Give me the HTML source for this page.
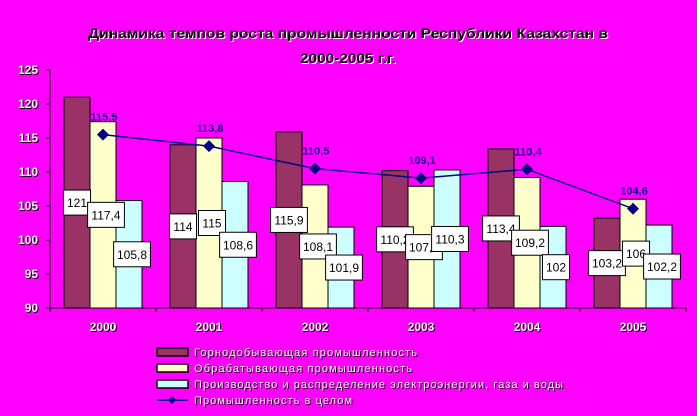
<!DOCTYPE html>
<html><head><meta charset="utf-8"><style>
html,body{margin:0;padding:0;background:#FF00FF;}
svg{display:block;font-family:"Liberation Sans",Arial,sans-serif;}
</style></head><body>
<svg id="chart" width="697" height="416" viewBox="0 0 697 416" xmlns="http://www.w3.org/2000/svg">
<rect width="697" height="416" fill="#FF00FF"/>
<g font-weight="bold" font-size="14" text-anchor="middle">
<text x="349" y="39" fill="#fff" textLength="520" lengthAdjust="spacingAndGlyphs">Динамика темпов роста промышленности Республики Казахстан в</text>
<text x="348" y="38" fill="#000" textLength="520" lengthAdjust="spacingAndGlyphs">Динамика темпов роста промышленности Республики Казахстан в</text>
<text x="349" y="64" fill="#fff" textLength="96" lengthAdjust="spacingAndGlyphs">2000-2005 г.г.</text>
<text x="348" y="63" fill="#000" textLength="96" lengthAdjust="spacingAndGlyphs">2000-2005 г.г.</text>
</g>
<g id="plot"></g>
<g id="legend"></g>
</svg>
<script>
const categories=["2000","2001","2002","2003","2004","2005"];
const mining=[121,114,115.9,110.2,113.4,103.2];
const manufacturing=[117.4,115,108.1,107.9,109.2,106];
const energy=[105.8,108.6,101.9,110.3,102,102.2];
const total=[115.5,113.8,110.5,109.1,110.4,104.6];
const yTicks=[90,95,100,105,110,115,120,125];
const seriesNames=["Горнодобывающая промышленность","Обрабатывающая промышленность","Производство и распределение электроэнергии, газа и воды","Промышленность в целом"];

const NS="http://www.w3.org/2000/svg";
const X0=50,CW=106,Y0=308,YMIN=90,YMAX=125,PH=238;
function y(v){return Y0-(v-YMIN)/(YMAX-YMIN)*PH;}
function xc(i){return X0+CW*i+CW/2;}
function fmt(v){return String(v).replace('.',',');}
function mk(tag,attrs,parent){const e=document.createElementNS(NS,tag);for(const k in attrs)e.setAttribute(k,attrs[k]);parent.appendChild(e);return e;}
const plot=document.getElementById('plot');
function shadowText(txt,x,yy,anchor,size,bold,parent,name,len){
  const g=mk('g',{},parent);
  
  
  const ex=len?{textLength:len,lengthAdjust:'spacing'}:{};
  const a=mk('text',Object.assign({x:x+1,y:yy+1,fill:'#000','text-anchor':anchor,'font-size':size,'font-weight':bold?'bold':'normal'},ex),g);a.textContent=txt;
  const b=mk('text',Object.assign({x:x,y:yy,fill:'#fff','text-anchor':anchor,'font-size':size,'font-weight':bold?'bold':'normal'},ex),g);b.textContent=txt;
}
yTicks.forEach(t=>{
  const l=mk('line',{x1:X0-4,x2:X0,y1:y(t),y2:y(t),stroke:'#000'},plot);
  
  
  shadowText(String(t),X0-12,y(t)+4,'end',12,true,plot,'y-tick-label');
});
const series=[mining,manufacturing,energy];
const colors=["#993366","#FFFFCC","#CCFFFF"];
const bw=26;
const labelQueue=[];
series.forEach((s,si)=>{
  s.forEach((v,i)=>{
    const bx=X0+CW*i+14+si*bw;
    const r=mk('rect',{x:bx,y:y(v),width:bw,height:Y0-y(v),fill:colors[si],stroke:'#000','stroke-width':1},plot);
    
    
    labelQueue.push({v,cx:bx+bw/2+(si?3:0),cy:(y(v)+Y0)/2});
  });
});
labelQueue.forEach(o=>{
  const t=fmt(o.v);
  const w=t.replace(',','').length*6.7+(t.includes(',')?3:0)+7,h=25;
  const g=mk('g',{},plot);
  
  
  mk('rect',{x:o.cx-w/2,y:o.cy-h/2,width:w,height:h,fill:'#fff',stroke:'#000'},g);
  const tx=mk('text',{x:o.cx,y:o.cy+4.5,'text-anchor':'middle','font-size':12,fill:'#000'},g);tx.textContent=t;
});
const ya=mk('line',{x1:X0,x2:X0,y1:y(YMAX),y2:Y0,stroke:'#000'},plot);


const xa=mk('line',{x1:X0,x2:X0+CW*categories.length,y1:Y0,y2:Y0,stroke:'#000'},plot);


categories.forEach((c,i)=>{
  const l=mk('line',{x1:X0+CW*i,x2:X0+CW*i,y1:Y0,y2:Y0+4,stroke:'#000'},plot);
  
  
  shadowText(c,xc(i),Y0+23,'middle',12,true,plot,'x-tick-label');
});
const tl=mk('line',{x1:X0+CW*6,x2:X0+CW*6,y1:Y0,y2:Y0+4,stroke:'#000'},plot);


const pl=mk('polyline',{points:total.map((v,i)=>xc(i)+','+y(v)).join(' '),fill:'none',stroke:'#000080','stroke-width':1.5},plot);


total.forEach((v,i)=>{
  const d=mk('polygon',{points:`${xc(i)},${y(v)-6} ${xc(i)+6},${y(v)} ${xc(i)},${y(v)+6} ${xc(i)-6},${y(v)}`,fill:'#000080'},plot);
  
  
  const t=mk('text',{x:xc(i)+1,y:y(v)-14,'text-anchor':'middle','font-size':11,'font-weight':'bold',fill:'#000080'},plot);
  
  
  t.textContent=fmt(v);
});
const lg=document.getElementById('legend');
const ly=[352,368,384,400];
const lens=[223,218,369,158];
seriesNames.forEach((n,i)=>{
  const g=mk('g',{},lg);
  
  
  if(i<3){mk('rect',{x:157,y:ly[i]-4,width:31,height:8,fill:colors[i],stroke:'#000','stroke-width':1.5},g);}
  else{mk('line',{x1:157,x2:188,y1:ly[i],y2:ly[i],stroke:'#000080','stroke-width':2},g);
       mk('polygon',{points:`172,${ly[i]-4} 176,${ly[i]} 172,${ly[i]+4} 168,${ly[i]}`,fill:'#000080'},g);}
  shadowText(n,194,ly[i]+4,'start',11,false,g,'legend-label',lens[i]);
});
</script>
</body></html>
